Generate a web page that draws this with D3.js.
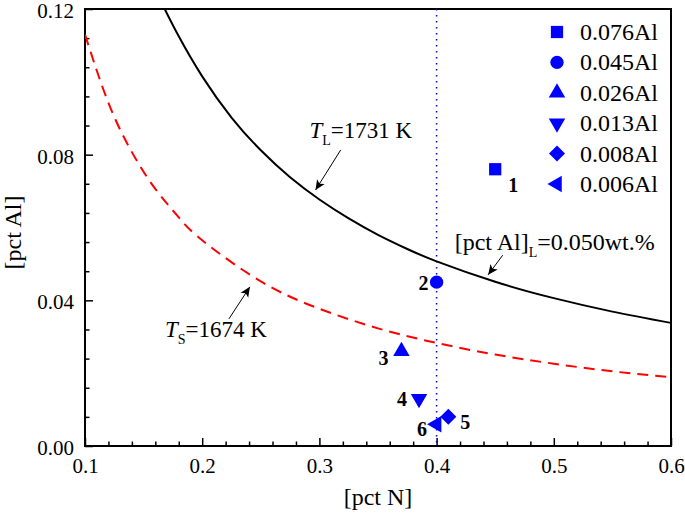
<!DOCTYPE html>
<html><head><meta charset="utf-8">
<script src="https://cdn.jsdelivr.net/npm/d3@7"></script>
<style>
html,body{margin:0;padding:0;background:#fff;}
</style></head>
<body><svg id="c" width="685" height="513"></svg>
<script>
// ---- data ----
const xTicks = [0.1, 0.2, 0.3, 0.4, 0.5, 0.6];
const yTicks = [0.00, 0.04, 0.08, 0.12];
const seriesNames = ["0.076Al", "0.045Al", "0.026Al", "0.013Al", "0.008Al", "0.006Al"];
const pointLabels = ["1", "2", "3", "4", "5", "6"];
const pctN = [0.45, 0.40, 0.37, 0.385, 0.41, 0.40];
const pctAl = [0.076, 0.045, 0.026, 0.013, 0.008, 0.006];
// liquidus curve T_L = 1731 K
const liqN  = [0.168, 0.18, 0.20, 0.225, 0.25, 0.275, 0.30, 0.325, 0.35, 0.375, 0.40, 0.45, 0.50, 0.55, 0.60];
const liqAl = [0.120, 0.1125, 0.1015, 0.0902, 0.0812, 0.0738, 0.0677, 0.0625, 0.058, 0.0541, 0.0507, 0.0451, 0.0406, 0.0369, 0.0338];
// solidus curve T_S = 1674 K
const solN  = [0.10, 0.12, 0.14, 0.16, 0.18, 0.20, 0.25, 0.30, 0.35, 0.40, 0.45, 0.50, 0.55, 0.60];
const solAl = [0.113, 0.0942, 0.0807, 0.0706, 0.0628, 0.0565, 0.0452, 0.0377, 0.0323, 0.0283, 0.0251, 0.0226, 0.0205, 0.0189];
const refN = 0.40; // dotted vertical line

// ---- layout ----
const FONT = "'Liberation Serif','Times New Roman','DejaVu Serif','Noto Serif',serif";
const L = 85, R = 671, T = 9, B = 446;
const svg = d3.select("#c").style("font-family", FONT);
const x = d3.scaleLinear().domain([0.1, 0.6]).range([L, R]);
const y = d3.scaleLinear().domain([0, 0.12]).range([B, T]);
const blue = "#0000ff";

svg.append("defs").append("clipPath").attr("id", "clip")
  .append("rect").attr("x", L).attr("y", T).attr("width", R - L).attr("height", B - T);

// axes
const minorX = d3.range(0.1, 0.6001, 0.02).filter(v => Math.abs(v * 10 - Math.round(v * 10)) > 1e-6);
const minorY = d3.range(0, 0.12001, 0.008).filter(v => Math.abs(v / 0.04 - Math.round(v / 0.04)) > 1e-6);

const gx = svg.append("g").attr("transform", `translate(0,${B})`)
  .call(d3.axisBottom(x).tickValues(xTicks).tickFormat(d3.format(".1f")).tickSize(-8).tickPadding(12));
const gxm = svg.append("g").attr("transform", `translate(0,${B})`)
  .call(d3.axisBottom(x).tickValues(minorX).tickFormat("").tickSize(-4.5));
const gy = svg.append("g").attr("transform", `translate(${L},0)`)
  .call(d3.axisLeft(y).tickValues(yTicks).tickFormat(d3.format(".2f")).tickSize(-8).tickPadding(11));
const gym = svg.append("g").attr("transform", `translate(${L},0)`)
  .call(d3.axisLeft(y).tickValues(minorY).tickFormat("").tickSize(-4.5));
[gx, gxm, gy, gym].forEach(g => {
  g.attr("font-family", null).attr("font-size", null);
  g.select(".domain").remove();
  g.selectAll(".tick line").attr("stroke", "#000").attr("stroke-width", 1.5);
  g.selectAll(".tick text").attr("fill", "#000").style("font-size", "21px").style("font-family", FONT);
});
gy.selectAll(".tick text").attr("dy", "0.4em");

// frame
svg.append("rect").attr("x", L).attr("y", T).attr("width", R - L).attr("height", B - T)
  .attr("fill", "none").attr("stroke", "#000").attr("stroke-width", 2);

// axis titles
svg.append("text").attr("x", (L + R) / 2).attr("y", 505).attr("text-anchor", "middle")
  .style("font-family", FONT).style("font-size", "24px").text("[pct N]");
svg.append("text").attr("transform", `translate(21,${(T + B) / 2 + 5}) rotate(-90)`)
  .attr("text-anchor", "middle").style("font-family", FONT).style("font-size", "24px").text("[pct Al]");

const plot = svg.append("g").attr("clip-path", "url(#clip)");

// dotted reference line
plot.append("line").attr("x1", x(refN)).attr("x2", x(refN)).attr("y1", T).attr("y2", B)
  .attr("stroke", blue).attr("stroke-width", 1.5).attr("stroke-dasharray", "1.5,4.5");

const line = d3.line().x(d => x(d[0])).y(d => y(d[1])).curve(d3.curveNatural);
plot.append("path").datum(liqN.map((v, i) => [v, liqAl[i]])).attr("d", line)
  .attr("fill", "none").attr("stroke", "#000").attr("stroke-width", 2);
plot.append("path").datum(solN.map((v, i) => [v, solAl[i]])).attr("d", line)
  .attr("fill", "none").attr("stroke", "#ff0000").attr("stroke-width", 2).attr("stroke-dasharray", "11,7");

// symbols
function sym(i) {
  switch (i) {
    case 0: return { p: d3.symbol(d3.symbolSquare, 150)(), r: 0 };
    case 1: return { p: d3.symbol(d3.symbolCircle, 140)(), r: 0 };
    case 2: return { p: d3.symbol(d3.symbolTriangle, 118)(), r: 0 };
    case 3: return { p: d3.symbol(d3.symbolTriangle, 118)(), r: 180 };
    case 4: return { p: d3.symbol(d3.symbolSquare, 128)(), r: 45 };
    case 5: return { p: d3.symbol(d3.symbolTriangle, 118)(), r: -90 };
  }
}
pctN.forEach((n, i) => {
  const s = sym(i);
  svg.append("path").attr("d", s.p).attr("fill", blue)
    .attr("transform", `translate(${x(n)},${y(pctAl[i])}) rotate(${s.r})`);
});

// point labels
const lblOff = [[13, 23, "start"], [-8, 8, "end"], [-13, 14, "end"], [-12, 7, "end"], [12, 12, "start"], [-9.5, 12, "end"]];
pointLabels.forEach((t, i) => {
  svg.append("text").attr("x", x(pctN[i]) + lblOff[i][0]).attr("y", y(pctAl[i]) + lblOff[i][1])
    .attr("text-anchor", lblOff[i][2]).style("font-family", FONT)
    .style("font-size", "20px").style("font-weight", "bold").text(t);
});

// legend
const legX = 557, legTX = 580, legY0 = 32, legDY = 30.4;
seriesNames.forEach((nm, i) => {
  const s = sym(i);
  const yy = legY0 + i * legDY;
  svg.append("path").attr("d", s.p).attr("fill", blue)
    .attr("transform", `translate(${legX},${yy}) rotate(${s.r})`);
  svg.append("text").attr("x", legTX).attr("y", yy + 8).style("font-family", FONT)
    .style("font-size", "24px").text(nm);
});

// annotations (data coordinates)
svg.append("defs").append("marker").attr("id", "ah").attr("viewBox", "0 0 10 10")
  .attr("refX", 10).attr("refY", 5).attr("markerWidth", 10).attr("markerHeight", 10)
  .attr("markerUnits", "userSpaceOnUse").attr("orient", "auto")
  .append("path").attr("d", "M0,0.5 L10,5 L0,9.5 L2.5,5 Z").attr("fill", "#000");

const arrows = [
  [0.3182, 0.0813, 0.2967, 0.0703],
  [0.2228, 0.0349, 0.2407, 0.0437],
  [0.4564, 0.0524, 0.4440, 0.0470]
];
arrows.forEach(a => {
  svg.append("line").attr("x1", x(a[0])).attr("y1", y(a[1])).attr("x2", x(a[2])).attr("y2", y(a[3]))
    .attr("stroke", "#000").attr("stroke-width", 1).attr("marker-end", "url(#ah)");
});

function subLabel(px, py, main, sub, rest, italicMain, fs, sfs) {
  const t = svg.append("text").attr("x", x(px)).attr("y", y(py))
    .style("font-family", FONT).style("font-size", fs + "px");
  t.append("tspan").style("font-style", italicMain ? "italic" : "normal").text(main);
  t.append("tspan").attr("dy", 7).style("font-size", sfs + "px").text(sub);
  t.append("tspan").attr("dy", -7).text(rest);
}
subLabel(0.2915, 0.0845, "T", "L", "=1731 K", true, 23, 14);
subLabel(0.1682, 0.0300, "T", "S", "=1674 K", true, 23, 14);
subLabel(0.4154, 0.0538, "[pct Al]", "L", "=0.050wt.%", false, 24, 14);
</script></body></html>
